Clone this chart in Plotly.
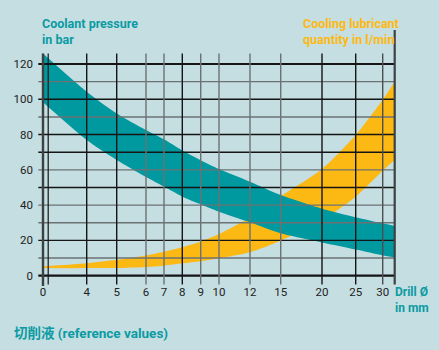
import numpy as np
import plotly.graph_objects as go

# ---- Axis definition: hand-drawn, non-linear drill-diameter scale ----
drill_ticks = [0, 4, 5, 6, 7, 8, 9, 10, 12, 15, 20, 25, 30, 32]
tick_text = ["0", "4", "5", "6", "7", "8", "9", "10", "12", "15", "20", "25", "30", ""]
scale_pos = [0, 43.7, 73.7, 103, 121, 139.3, 157.7, 176, 207, 237.7, 279, 312.7, 339.7, 351.7]

# ---- Data ----
drill = [0, 4, 5, 6, 7, 8, 9, 10, 12, 15, 20, 25, 30, 32]
pressure_upper = [126, 104.3, 92, 82.6, 77.3, 71, 65.5, 60.5, 53.3, 45.7, 38, 33.2, 29.7, 28.2]
pressure_lower = [98.3, 76.9, 65.6, 56, 50.5, 44.8, 40.5, 36.3, 30.3, 24, 18.8, 14.8, 11.5, 10.5]
flow_upper = [5.2, 7.0, 9.0, 11.5, 13.6, 16.1, 19.4, 23.6, 33, 45, 60.5, 79.8, 99.8, 110]
flow_lower = [4.3, 4.3, 4.4, 5.0, 5.7, 7.0, 8.2, 9.9, 13.3, 20, 31.5, 44.8, 59.5, 65.6]
y_ticks = [0, 20, 40, 60, 80, 100, 120]

BG = "#c4dee1"
TEAL = "#00999f"
YELLOW = "#fdb913"
TEAL_TXT = "#0a9ba3"
BLACK = "#151515"
GREY = "#6c7273"

xpos = np.interp(drill, drill_ticks, scale_pos)

fig = go.Figure()
sm = 0.7
fig.add_trace(go.Scatter(x=xpos, y=flow_lower, mode="lines",
                         line=dict(width=0, shape="spline", smoothing=sm, color=YELLOW),
                         hoverinfo="skip", showlegend=False))
fig.add_trace(go.Scatter(x=xpos, y=flow_upper, mode="lines", fill="tonexty", fillcolor=YELLOW,
                         line=dict(width=0, shape="spline", smoothing=sm, color=YELLOW),
                         hoverinfo="skip", showlegend=False))
fig.add_trace(go.Scatter(x=xpos, y=pressure_lower, mode="lines",
                         line=dict(width=0, shape="spline", smoothing=sm, color=TEAL),
                         hoverinfo="skip", showlegend=False))
fig.add_trace(go.Scatter(x=xpos, y=pressure_upper, mode="lines", fill="tonexty", fillcolor=TEAL,
                         line=dict(width=0, shape="spline", smoothing=sm, color=TEAL),
                         hoverinfo="skip", showlegend=False))

shapes = []
# horizontal grid lines
h_vals = list(range(0, 130, 10))
h_cols = {120: BLACK, 110: GREY, 100: BLACK, 90: GREY, 80: BLACK, 70: BLACK, 60: GREY,
          50: BLACK, 40: GREY, 30: GREY, 20: BLACK, 10: GREY, 0: BLACK}
for v in h_vals:
    w = 2.2 if v in (0, 120) else 1.4
    shapes.append(dict(type="line", xref="x", yref="y", x0=-4.7, x1=scale_pos[-1], y0=v, y1=v,
                       line=dict(color=h_cols[v], width=w), layer="above"))
# vertical grid lines
v_cols = [None, BLACK, BLACK, GREY, GREY, BLACK, GREY, GREY, GREY, GREY, BLACK, BLACK, "#4a4f50"]
for p, c in zip(scale_pos[1:-1], v_cols[1:]):
    shapes.append(dict(type="line", xref="x", yref="y", x0=p, x1=p, y0=-5, y1=126,
                       line=dict(color=c, width=1.4), layer="above"))
# extra thin line next to the left axis
shapes.append(dict(type="line", xref="x", yref="y", x0=5.2, x1=5.2, y0=-5, y1=126,
                   line=dict(color=BLACK, width=1.2), layer="above"))
# left axis (thick)
shapes.append(dict(type="line", xref="x", yref="y", x0=0, x1=0, y0=-7, y1=126,
                   line=dict(color="#3c4142", width=2.4), layer="above"))
# right border (thick)
shapes.append(dict(type="line", xref="x", yref="y", x0=scale_pos[-1], x1=scale_pos[-1], y0=-5, y1=139.3,
                   line=dict(color="#3c4142", width=2.2), layer="above"))

FONT = "Roboto, 'Noto Sans', sans-serif"
CJK = "Roboto, 'Noto Sans CJK SC', sans-serif"

def py(px):
    return (286 - px) / 256.0

def px_x(px):
    return (px - 37) / 359.0

ann = []
def label(text, xpx, ypx, color, size=12.5, fam=FONT):
    ann.append(dict(text=text, xref="paper", yref="paper", x=px_x(xpx), y=py(ypx),
                    xanchor="left", yanchor="middle", align="left", showarrow=False,
                    font=dict(family=fam, size=size, color=color, weight="bold")))

label("Coolant pressure<br>in bar", 39.5, 31.5, TEAL_TXT)
label("Cooling lubricant<br>quantity in l/min", 300.5, 31.5, YELLOW)
label("Drill Ø<br>in mm", 392.5, 299.5, TEAL_TXT, 12)
label("切削液 (reference values)", 11.5, 332.5, TEAL_TXT, 13.5, CJK)

fig.update_layout(
    width=439, height=350,
    margin=dict(l=37, r=43, t=30, b=64),
    paper_bgcolor=BG, plot_bgcolor=BG,
    shapes=shapes, annotations=ann,
    showlegend=False,
    xaxis=dict(range=[-6, 353], tickvals=scale_pos[:-1], ticktext=tick_text[:-1],
               showgrid=False, zeroline=False, showline=False, ticks="",
               ticklabelstandoff=-3,
               tickfont=dict(family=FONT, size=11.5, color="#222222"), fixedrange=True),
    yaxis=dict(range=[-5.84, 139.28], tickvals=y_ticks,
               showgrid=False, zeroline=False, showline=False, ticks="",
               ticklabelstandoff=3,
               tickfont=dict(family=FONT, size=11.5, color="#222222"), fixedrange=True),
)

fig.write_html("out.html")
